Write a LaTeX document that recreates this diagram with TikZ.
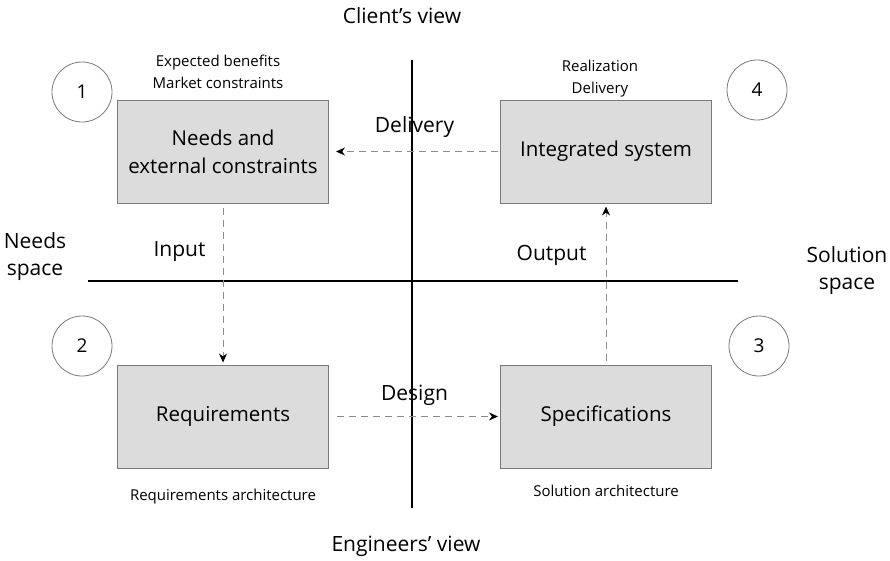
\documentclass[tikz,border=0pt]{standalone}
\usepackage{fontspec}
\setmainfont{Open Sans}
\usetikzlibrary{positioning, arrows.meta}
\definecolor{boxGrey}{HTML}{DCDCDC}
\definecolor{edgeGrey}{HTML}{7A7A7A}
\definecolor{dashGrey}{HTML}{8C8C8C}
\tikzset{
  box/.style  = {draw=edgeGrey, fill=boxGrey, line width=1pt, align=center,
                 minimum width=211pt, minimum height=103pt,
                 font=\fontsize{20.5}{28}\selectfont},
  num/.style  = {circle, draw=edgeGrey, line width=0.8pt, minimum size=60pt,
                 inner sep=0pt, font=\fontsize{19}{21}\selectfont},
  axis/.style = {draw=black, line width=1.6pt},
  fl/.style   = {-{Stealth[length=9pt, width=8pt, black]}, draw=dashGrey,
                 line width=1pt, dash pattern=on 7pt off 5pt},
  lbl/.style  = {font=\fontsize{21}{27}\selectfont, align=center, inner sep=0pt},
  note/.style = {font=\fontsize{15}{22}\selectfont, align=center, inner sep=0pt}
}

\begin{document}
\begin{tikzpicture}[x=1pt, y=-1pt]
  \useasboundingbox (0,0) rectangle (890,560);

  % --- axes
  \coordinate (top) at (412,60);
  \coordinate (bot) at (412,508);
  \coordinate (lft) at (88,281);
  \coordinate (rgt) at (738,281);
  \draw[axis] (top) -- (bot);
  \draw[axis] (lft) -- (rgt);
  \node[lbl] (client) at (402,16) {Client’s view};
  \node[lbl] (eng) at (406,546) {Engineers’ view};
  \node[lbl] (needsp) at (35,257) {Needs\\space};
  \node[lbl] (solsp) at (847,271) {Solution\\space};

  % --- the four boxes
  \node[box] (needs) at (223,151.5) {Needs and\\external constraints};
  \node[box] (integ) at (606,151.5) {Integrated system};
  \node[box] (req) at (223,416.5) {Requirements};
  \node[box] (spec) at (606,416.5) {Specifications};

  \node[num] (c1) at (82,92) {1};
  \node[num] (c4) at (757,90) {4};
  \node[num] (c2) at (82,346) {2};
  \node[num] (c3) at (759,346) {3};

  \node[note, above=11pt of needs, xshift=-5pt] (benef) {Expected benefits\\Market constraints};
  \node[note, above=2pt of integ, xshift=-6pt] (real) {Realization\\Delivery};
  \node[note, below=20pt of req] (reqarch) {Requirements architecture};
  \node[note, below=16pt of spec] (solarch) {Solution architecture};

  % --- flows
  \draw[fl, shorten <=2pt, shorten >=7pt] (integ) -- node[lbl, above=13pt] (dlv) {Delivery} (needs);
  \draw[fl, shorten <=4pt, shorten >=2pt] (needs) -- node[lbl, pos=0.3, left=17pt] (inp) {Input} (req);
  \draw[fl, shorten <=8pt, shorten >=2pt] (req) -- node[lbl, above=10pt] (dsg) {Design} (spec);
  \draw[fl, shorten <=4pt, shorten >=3pt] (spec) -- node[lbl, pos=0.68, left=19pt] (outp) {Output} (integ);
\end{tikzpicture}
\end{document}
